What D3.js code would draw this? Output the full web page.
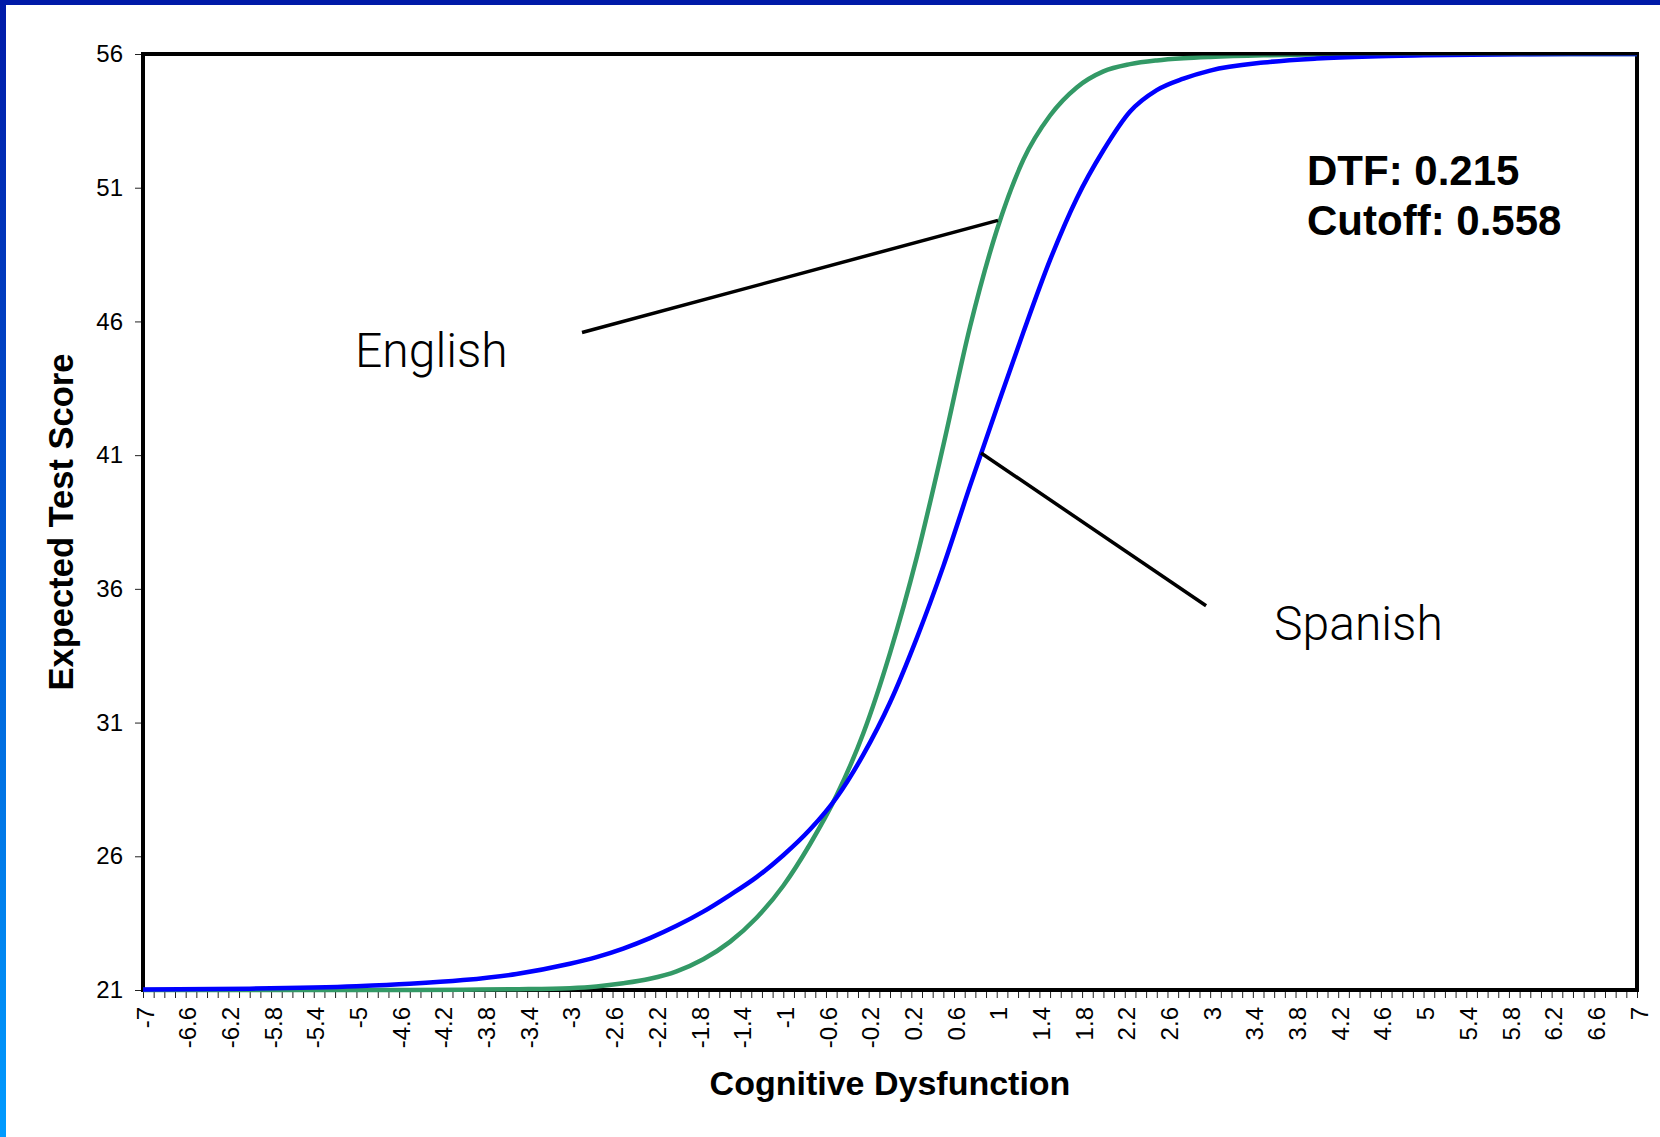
<!DOCTYPE html>
<html>
<head>
<meta charset="utf-8">
<script src="https://cdn.jsdelivr.net/npm/d3@7"></script>
<style>
  html, body { margin: 0; padding: 0; background: #ffffff; }
  svg { display: block; }
</style>
</head>
<body>
<svg id="chart" width="1660" height="1137"></svg>
<script>
// ---- data ----
const thetaValues = [-7, -6, -5, -4.5, -4, -3.5, -3, -2.75, -2.5, -2.25, -2, -1.75, -1.5, -1.25, -1, -0.75, -0.5, -0.25,
  0, 0.25, 0.5, 0.75, 1, 1.25, 1.5, 1.75, 2, 2.25, 2.5, 2.75, 3, 3.5, 4, 4.5, 5, 6, 7];
const englishScores = [21.0, 21.0, 21.0, 21.0, 21.01, 21.03, 21.07, 21.13, 21.25, 21.42, 21.7, 22.15, 22.8, 23.7, 24.9, 26.45, 28.28, 30.6,
  33.6, 37.17, 41.37, 45.8, 49.4, 52.05, 53.7, 54.75, 55.35, 55.62, 55.76, 55.84, 55.89, 55.95, 55.98, 55.99, 56, 56, 56];
const spanishScores = [21.02, 21.05, 21.14, 21.23, 21.37, 21.6, 21.98, 22.23, 22.55, 22.94, 23.4, 23.93, 24.55, 25.22, 26.04, 27.0, 28.2, 29.8,
  31.75, 34.15, 36.85, 39.85, 42.75, 45.6, 48.3, 50.6, 52.4, 53.85, 54.65, 55.08, 55.38, 55.68, 55.83, 55.91, 55.95, 55.99, 56];
const xTickLabels = [-7, -6.6, -6.2, -5.8, -5.4, -5, -4.6, -4.2, -3.8, -3.4, -3, -2.6, -2.2, -1.8, -1.4, -1, -0.6, -0.2,
  0.2, 0.6, 1, 1.4, 1.8, 2.2, 2.6, 3, 3.4, 3.8, 4.2, 4.6, 5, 5.4, 5.8, 6.2, 6.6, 7];
const yTickLabels = [21, 26, 31, 36, 41, 46, 51, 56];
const seriesNames = ["English", "Spanish"];
// annotation leader lines in data units [x1, y1, x2, y2]
const englishLeader = [-2.886, 45.585, 1.012, 49.78];
const spanishLeader = [0.853, 41.08, 2.962, 35.37];
const statLines = ["DTF: 0.215", "Cutoff: 0.558"];

// ---- layout ----
const W = 1660, H = 1137;
const plot = { left: 143, right: 1637, top: 54, bottom: 990 };

const svg = d3.select("#chart");

// page frame: blue bars
const defs = svg.append("defs");
const grad = defs.append("linearGradient").attr("id", "leftbar")
  .attr("x1", 0).attr("y1", 0).attr("x2", 0).attr("y2", 1);
grad.append("stop").attr("offset", "0%").attr("stop-color", "#001aa8");
grad.append("stop").attr("offset", "100%").attr("stop-color", "#009bff");
svg.append("rect").attr("x", 0).attr("y", 0).attr("width", W).attr("height", H).attr("fill", "#ffffff");
svg.append("rect").attr("x", 0).attr("y", 0).attr("width", 6).attr("height", H).attr("fill", "url(#leftbar)");
svg.append("rect").attr("x", 0).attr("y", 0).attr("width", W).attr("height", 5).attr("fill", "#001aa8");

const x = d3.scaleLinear().domain([-7, 7]).range([plot.left, plot.right]);
const y = d3.scaleLinear().domain([21, 56]).range([plot.bottom, plot.top]);

// x axis: minor ticks every 0.1, labels every 0.4
const minorTicks = d3.range(-70, 71).map(i => i / 10);
const labelSet = new Set(xTickLabels.map(v => v.toFixed(1)));
const xAxis = d3.axisBottom(x)
  .tickValues(minorTicks)
  .tickSize(7)
  .tickPadding(0)
  .tickFormat(v => labelSet.has(v.toFixed(1)) ? String(+v.toFixed(1)) : "");
const gx = svg.append("g").attr("transform", `translate(0,${plot.bottom + 1})`).call(xAxis);
gx.select(".domain").remove();
gx.selectAll(".tick line").attr("stroke", "#222").attr("stroke-width", 1);
gx.selectAll(".tick text")
  .attr("transform", "rotate(-90)")
  .attr("x", -16)
  .attr("y", 0)
  .attr("dy", "0.42em")
  .attr("text-anchor", "end")
  .attr("fill", "#000")
  .style("font-family", "'Liberation Sans', Arial, sans-serif")
  .style("font-size", "24px");

// y axis
const yAxis = d3.axisLeft(y).tickValues(yTickLabels).tickSize(8).tickPadding(12).tickFormat(d3.format("d"));
const gy = svg.append("g").attr("transform", `translate(${plot.left},0)`).call(yAxis);
gy.select(".domain").remove();
gy.selectAll(".tick line").attr("stroke", "#222").attr("stroke-width", 1);
gy.selectAll(".tick text")
  .attr("fill", "#000")
  .style("font-family", "'Liberation Sans', Arial, sans-serif")
  .style("font-size", "24px");

// plot frame
svg.append("rect")
  .attr("x", plot.left).attr("y", plot.top)
  .attr("width", plot.right - plot.left).attr("height", plot.bottom - plot.top)
  .attr("fill", "none").attr("stroke", "#000").attr("stroke-width", 4);

// curves
defs.append("clipPath").attr("id", "plotclip")
  .append("rect").attr("x", plot.left).attr("y", plot.top + 1.5)
  .attr("width", plot.right - plot.left).attr("height", plot.bottom - plot.top + 6);

const line = d3.line().x(d => x(d[0])).y(d => y(d[1])).curve(d3.curveMonotoneX);
const series = [
  { name: seriesNames[0], values: englishScores, color: "#339966" },
  { name: seriesNames[1], values: spanishScores, color: "#0000ff" }
];
const gc = svg.append("g").attr("clip-path", "url(#plotclip)");
series.forEach(s => {
  gc.append("path")
    .datum(thetaValues.map((t, i) => [t, s.values[i]]))
    .attr("d", line)
    .attr("fill", "none")
    .attr("stroke", s.color)
    .attr("stroke-width", 4.5)
    .attr("stroke-linejoin", "round");
});

// leader lines
[englishLeader, spanishLeader].forEach(l => {
  svg.append("line")
    .attr("x1", x(l[0])).attr("y1", y(l[1]))
    .attr("x2", x(l[2])).attr("y2", y(l[3]))
    .attr("stroke", "#000").attr("stroke-width", 3.5);
});

// series labels
svg.append("text")
  .attr("x", x(-5.013)).attr("y", y(44.295))
  .style("font-family", "Roboto, 'Noto Sans', sans-serif")
  .style("font-weight", 300)
  .style("font-size", "48px")
  .attr("fill", "#000")
  .text(seriesNames[0]);
svg.append("text")
  .attr("x", x(3.599)).attr("y", y(34.09))
  .style("font-family", "Roboto, 'Noto Sans', sans-serif")
  .style("font-weight", 300)
  .style("font-size", "48px")
  .attr("fill", "#000")
  .text(seriesNames[1]);

// statistics text
svg.append("text")
  .attr("x", x(3.908)).attr("y", y(51.1))
  .style("font-family", "'Liberation Sans', Arial, sans-serif")
  .style("font-weight", "bold").style("font-size", "42px")
  .text(statLines[0]);
svg.append("text")
  .attr("x", x(3.908)).attr("y", y(49.23))
  .style("font-family", "'Liberation Sans', Arial, sans-serif")
  .style("font-weight", "bold").style("font-size", "42px")
  .text(statLines[1]);

// axis titles
svg.append("text")
  .attr("x", (plot.left + plot.right) / 2).attr("y", 1095)
  .attr("text-anchor", "middle")
  .style("font-family", "'Liberation Sans', Arial, sans-serif")
  .style("font-weight", "bold").style("font-size", "34px")
  .text("Cognitive Dysfunction");
svg.append("text")
  .attr("transform", `translate(73,${(plot.top + plot.bottom) / 2}) rotate(-90)`)
  .attr("text-anchor", "middle")
  .style("font-family", "'Liberation Sans', Arial, sans-serif")
  .style("font-weight", "bold").style("font-size", "34.5px")
  .text("Expected Test Score");
</script>
</body>
</html>
